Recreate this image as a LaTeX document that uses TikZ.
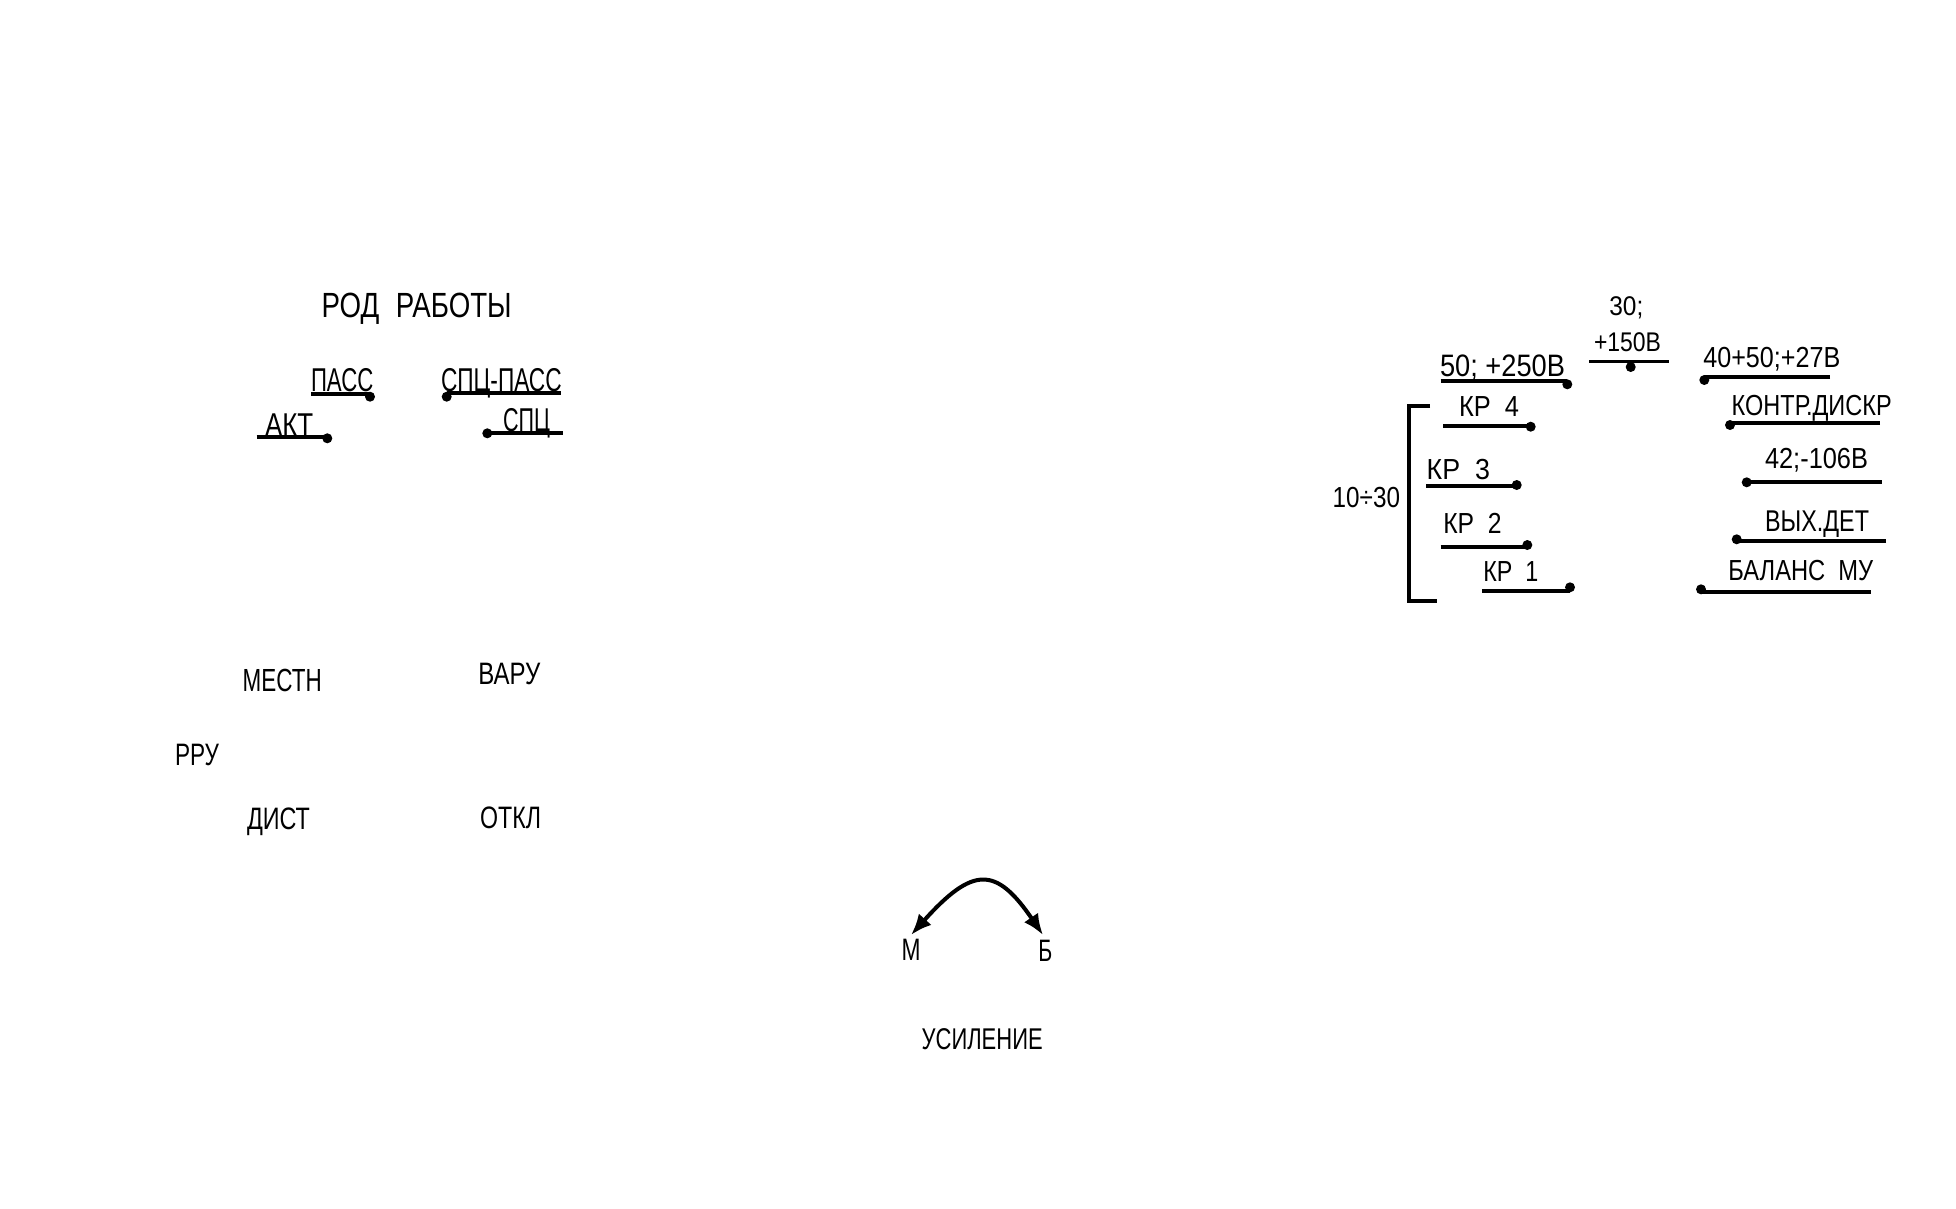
\documentclass[tikz,border=0pt]{standalone}
\usepackage{fontspec}
\setmainfont{Liberation Sans}
\usepackage{graphicx}
\usetikzlibrary{arrows.meta}
\newcommand\fitw[2]{\resizebox{#1pt}{\height}{#2}}
\tikzset{
  txt/.style={anchor=base west, inner sep=0pt, outer sep=0pt, font=\fontsize{#1}{#1}\selectfont},
  ul/.style={line width=3.8pt},
  dot/.style={circle, fill=black, inner sep=0pt, minimum size=10pt},
  brk/.style={line width=4pt},
  arc/.style={line width=4pt, {Latex[length=21pt,width=17pt]}-{Latex[length=21pt,width=17pt]}}
}
\begin{document}
\begin{tikzpicture}[x=1pt, y=-1pt]
\fill[white] (0,0) rectangle (1956,1208);
\path[use as bounding box] (0,0) rectangle (1956,1208);

% ---------- left top ----------
\node[txt=35] (rod) at (321.7,317.3) {\fitw{190}{РОД\hspace{0.6em}РАБОТЫ}};
\node[txt=33] (pass) at (311,391.7) {\fitw{62.3}{ПАСС}};
\node[txt=33] (spcpass) at (441,391.7) {\fitw{120.7}{СПЦ-ПАСС}};
\node[txt=33] (akt) at (265,436) {\fitw{48.3}{АКТ}};
\node[txt=33] (spc) at (503,431.7) {\fitw{47}{СПЦ}};

\node[dot] (dpass) at (370,396.7) {};
\coordinate (lpass) at (311,394);
\draw[ul] (lpass) -- (lpass -| dpass);
\node[dot] (dspcpass) at (446.7,396.7) {};
\coordinate (lspcpass) at (560.7,393.3);
\draw[ul] (lspcpass) -- (lspcpass -| dspcpass);
\node[dot] (dakt) at (327.3,438.3) {};
\coordinate (lakt) at (256.7,437.3);
\draw[ul] (lakt) -- (lakt -| dakt);
\node[dot] (dspc) at (487.3,433.3) {};
\coordinate (lspc) at (562.7,432.7);
\draw[ul] (lspc) -- (lspc -| dspc);

% ---------- left bottom ----------
\node[txt=32] (mestn) at (242.7,691) {\fitw{79}{МЕСТН}};
\node[txt=31] (varu) at (478.3,684.3) {\fitw{62}{ВАРУ}};
\node[txt=31] (rru) at (175,765) {\fitw{44}{РРУ}};
\node[txt=31] (dist) at (247,829) {\fitw{63}{ДИСТ}};
\node[txt=31] (otkl) at (480,828.3) {\fitw{61}{ОТКЛ}};

% ---------- gain ----------
\node[txt=31] (m) at (901.7,960) {\fitw{19}{М}};
\node[txt=31] (b) at (1038.3,961.7) {\fitw{14}{Б}};
\node[txt=30] (usil) at (921.7,1049.3) {\fitw{121}{УСИЛЕНИЕ}};
\coordinate (mt) at (911,935);
\coordinate (bt) at (1043,935);
\draw[arc] (mt) .. controls (973,866) and (996,866) .. (bt);

% ---------- right: left column ----------
\node[txt=31] (v250) at (1440,376.7) {\fitw{125}{50;\ +250В}};
\node[txt=29] (kr4) at (1459,416) {\fitw{60}{КР\ \ 4}};
\node[txt=29] (kr3) at (1426.7,479) {\fitw{63.3}{КР\ \ 3}};
\node[txt=29] (kr2) at (1443.3,533.3) {\fitw{58.4}{КР\ \ 2}};
\node[txt=29] (kr1) at (1483.3,581.7) {\fitw{55}{КР\ \ 1}};
\node[txt=29] (range) at (1332.7,507.3) {\fitw{67.3}{10÷30}};

\node[dot] (dv250) at (1567.3,384.3) {};
\coordinate (lv250) at (1440.7,381);
\draw[ul] (lv250) -- (lv250 -| dv250);
\node[dot] (dkr4) at (1530.7,426.7) {};
\coordinate (lkr4) at (1443,425.7);
\draw[ul] (lkr4) -- (lkr4 -| dkr4);
\node[dot] (dkr3) at (1516.7,485) {};
\coordinate (lkr3) at (1426,486);
\draw[ul] (lkr3) -- (lkr3 -| dkr3);
\node[dot] (dkr2) at (1527.3,545) {};
\coordinate (lkr2) at (1440.7,546.7);
\draw[ul] (lkr2) -- (lkr2 -| dkr2);
\node[dot] (dkr1) at (1570,587.3) {};
\coordinate (lkr1) at (1482.3,591);
\draw[ul] (lkr1) -- (lkr1 -| dkr1);

\coordinate (bt1) at (1430,406);
\coordinate (bt2) at (1409.3,406);
\coordinate (bb2) at (1409.3,601);
\coordinate (bb1) at (1437,601);
\draw[brk] (bt1) -- (bt2) -- (bb2) -- (bb1);

% ---------- right: middle ----------
\node[txt=27] (v30) at (1609.3,315.7) {\fitw{34}{30;}};
\node[txt=27] (v150) at (1594,351) {\fitw{67}{+150В}};
\node[dot] (dv150) at (1630.7,367) {};
\coordinate (lv150a) at (1589.3,361.5);
\coordinate (lv150b) at (1669,361.5);
\draw[ul] (lv150a) -- (lv150b);

% ---------- right: right column ----------
\node[txt=29] (v27) at (1703.3,367.3) {\fitw{137}{40+50;+27В}};
\node[txt=29] (kontr) at (1731.7,415) {\fitw{160}{КОНТР.ДИСКР}};
\node[txt=29] (v106) at (1765,468.3) {\fitw{103}{42;-106В}};
\node[txt=30] (vyh) at (1765,531.7) {\fitw{104}{ВЫХ.ДЕТ}};
\node[txt=29] (bal) at (1728.3,580) {\fitw{145}{БАЛАНС\ \ МУ}};

\node[dot] (dv27) at (1704.3,380) {};
\coordinate (lv27) at (1830,376.7);
\draw[ul] (lv27) -- (lv27 -| dv27);
\node[dot] (dkontr) at (1730,425) {};
\coordinate (lkontr) at (1880,423.3);
\draw[ul] (lkontr) -- (lkontr -| dkontr);
\node[dot] (dv106) at (1746.7,482.3) {};
\coordinate (lv106) at (1881.7,481.7);
\draw[ul] (lv106) -- (lv106 -| dv106);
\node[dot] (dvyh) at (1736.7,539.3) {};
\coordinate (lvyh) at (1886,540.7);
\draw[ul] (lvyh) -- (lvyh -| dvyh);
\node[dot] (dbal) at (1701,589.3) {};
\coordinate (lbal) at (1870.7,591.7);
\draw[ul] (lbal) -- (lbal -| dbal);
\end{tikzpicture}
\end{document}
